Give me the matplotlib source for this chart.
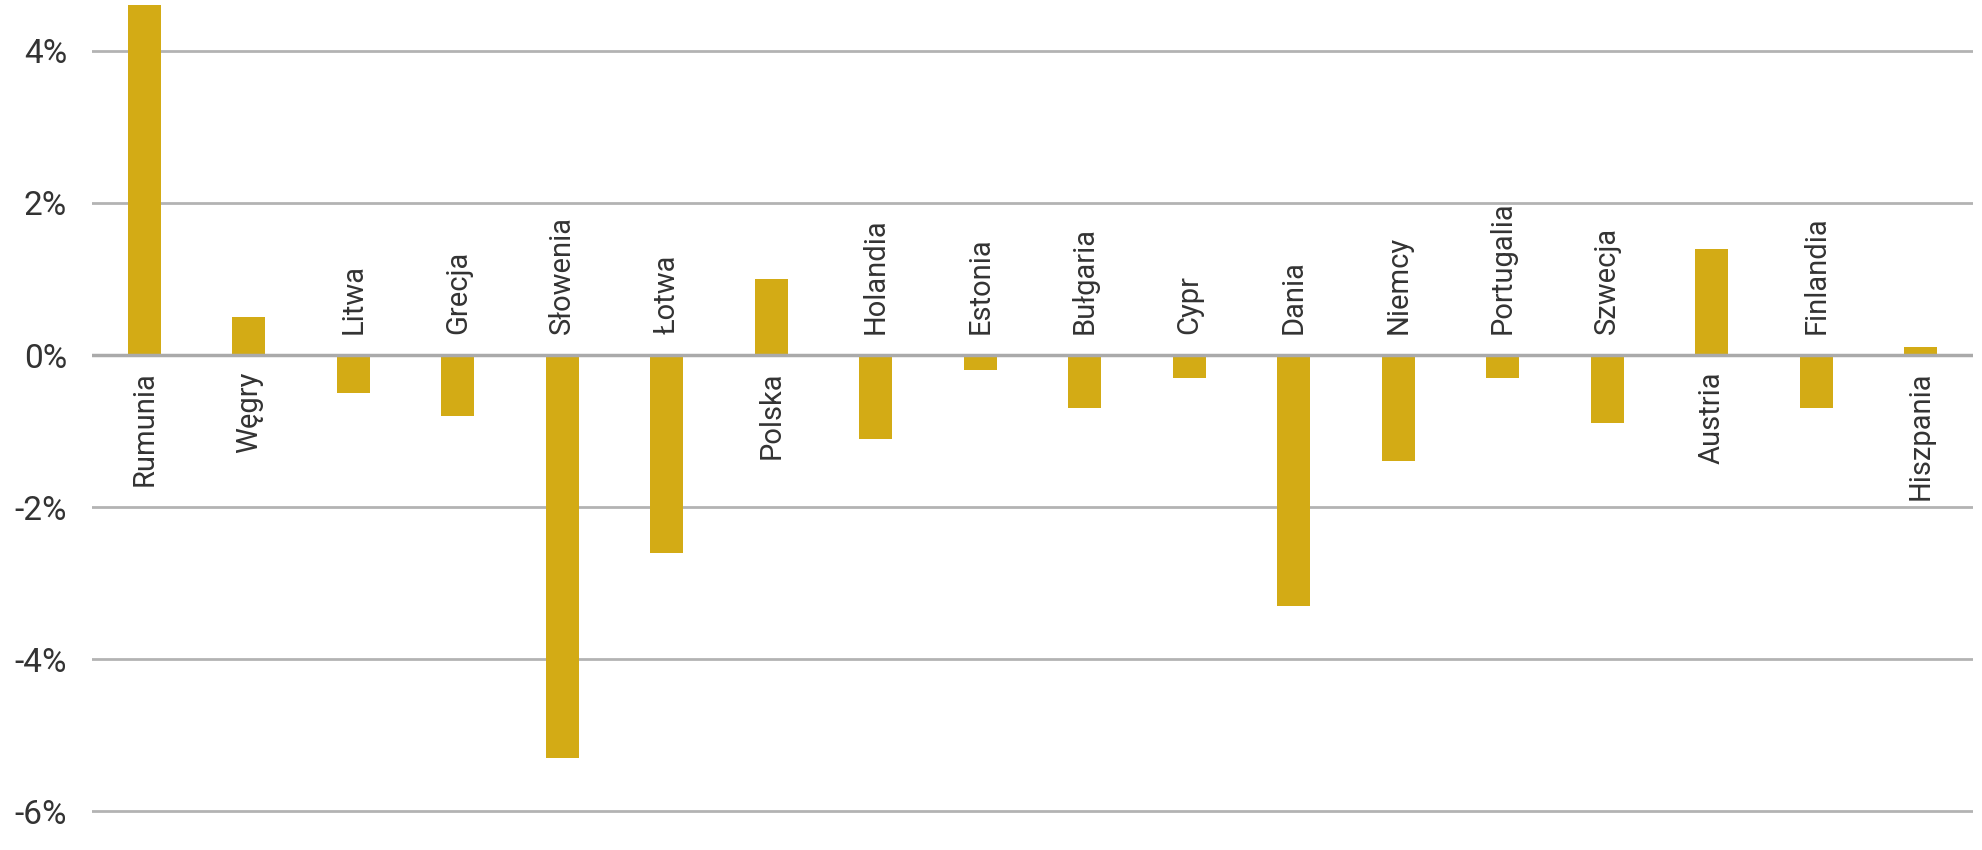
import matplotlib.pyplot as plt

# 数据
countries = ['Rumunia', 'Węgry', 'Litwa', 'Grecja', 'Słowenia', 'Łotwa', 'Polska',
             'Holandia', 'Estonia', 'Bułgaria', 'Cypr', 'Dania', 'Niemcy',
             'Portugalia', 'Szwecja', 'Austria', 'Finlandia', 'Hiszpania']
values = [4.6, 0.5, -0.5, -0.8, -5.3, -2.6, 1.0, -1.1, -0.2, -0.7, -0.3,
          -3.3, -1.4, -0.3, -0.9, 1.4, -0.7, 0.1]
yticks = [-6, -4, -2, 0, 2, 4]

plt.rcParams['font.family'] = ['Roboto', 'DejaVu Sans']

fig = plt.figure(figsize=(19.82, 8.5), dpi=100)
ax = fig.add_axes([92 / 1982, 0, 1881 / 1982, 1])

x = list(range(len(countries)))
ax.bar(x, values, width=0.32, color='#D3AB15', zorder=3)

ax.set_xlim(-0.5, len(countries) - 0.5)
ax.set_ylim(-6.51, 4.67)
ax.set_yticks(yticks)
ax.set_yticklabels([f'{t}%' for t in yticks], fontsize=24, color='#333333')
ax.tick_params(axis='y', length=0, pad=18)
ax.set_xticks([])

ax.grid(axis='y', color='#b3b3b3', linewidth=2, zorder=0)
ax.axhline(0, color='#aaaaaa', linewidth=2.5, zorder=4)
for s in ax.spines.values():
    s.set_visible(False)

# 国家标签：正值在零线下方，负值在零线上方
for i, (c, v) in enumerate(zip(countries, values)):
    if v >= 0:
        ax.annotate(c, (i, 0), textcoords='offset points', xytext=(0, -12),
                    rotation=90, ha='center', va='top', fontsize=21,
                    color='#333333')
    else:
        ax.annotate(c, (i, 0), textcoords='offset points', xytext=(0, 15),
                    rotation=90, ha='center', va='bottom', fontsize=21,
                    color='#333333')

fig.savefig('out.png', dpi=100)
